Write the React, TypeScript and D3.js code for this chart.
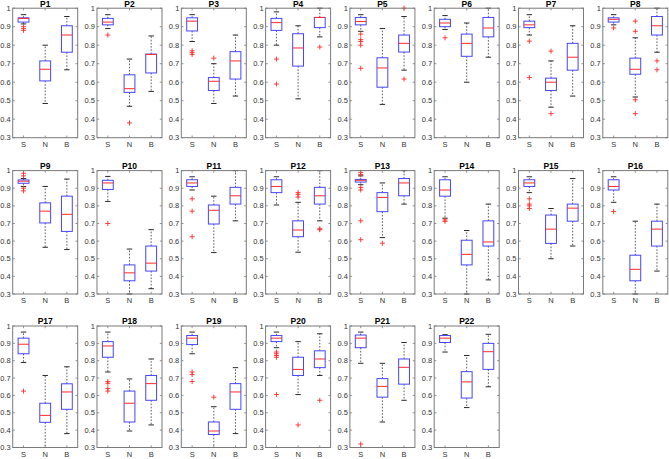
import React from "react";
import * as d3 from "d3";

const panels = ["P1","P2","P3","P4","P5","P6","P7","P8","P9","P10","P11","P12","P13","P14","P15","P16","P17","P18","P19","P20","P21","P22"];
const groups = ["S", "N", "B"];
const yTicks = [0.3, 0.4, 0.5, 0.6, 0.7, 0.8, 0.9, 1];

// [lowWhisker, q1, median, q3, highWhisker]
const sStats = [
  [0.915, 0.925, 0.945, 0.948, 0.965],
  [0.89, 0.91, 0.925, 0.945, 0.965],
  [0.82, 0.877, 0.93, 0.948, 0.965],
  [0.8, 0.88, 0.922, 0.945, 0.98],
  [0.875, 0.91, 0.928, 0.95, 0.965],
  [0.885, 0.9, 0.92, 0.94, 0.96],
  [0.855, 0.895, 0.91, 0.93, 0.965],
  [0.91, 0.925, 0.94, 0.948, 0.965],
  [0.91, 0.928, 0.94, 0.947, 0.955],
  [0.825, 0.893, 0.93, 0.945, 0.967],
  [0.89, 0.91, 0.93, 0.948, 0.965],
  [0.805, 0.875, 0.91, 0.948, 0.965],
  [0.92, 0.935, 0.945, 0.95, 0.97],
  [0.73, 0.855, 0.89, 0.948, 0.965],
  [0.875, 0.91, 0.93, 0.948, 0.965],
  [0.82, 0.89, 0.91, 0.948, 0.965],
  [0.79, 0.84, 0.895, 0.93, 0.965],
  [0.735, 0.82, 0.885, 0.91, 0.965],
  [0.84, 0.893, 0.93, 0.945, 0.965],
  [0.875, 0.91, 0.93, 0.945, 0.965],
  [0.785, 0.875, 0.93, 0.948, 0.965],
  [0.85, 0.905, 0.93, 0.945, 0.95],
];
const nStats = [
  [0.485, 0.607, 0.67, 0.715, 0.8],
  [0.47, 0.545, 0.565, 0.64, 0.725],
  [0.485, 0.555, 0.605, 0.625, 0.7],
  [0.51, 0.687, 0.785, 0.862, 0.905],
  [0.48, 0.573, 0.677, 0.732, 0.89],
  [0.6, 0.74, 0.81, 0.86, 0.92],
  [0.465, 0.555, 0.6, 0.622, 0.715],
  [0.52, 0.643, 0.67, 0.73, 0.84],
  [0.565, 0.703, 0.77, 0.817, 0.91],
  [0.3, 0.375, 0.42, 0.465, 0.555],
  [0.535, 0.697, 0.775, 0.805, 0.855],
  [0.537, 0.625, 0.663, 0.715, 0.82],
  [0.62, 0.767, 0.848, 0.875, 0.93],
  [0.3, 0.465, 0.525, 0.605, 0.66],
  [0.5, 0.587, 0.668, 0.748, 0.785],
  [0.3, 0.375, 0.44, 0.52, 0.713],
  [0.3, 0.445, 0.485, 0.555, 0.715],
  [0.395, 0.447, 0.555, 0.625, 0.695],
  [0.3, 0.375, 0.395, 0.447, 0.535],
  [0.605, 0.715, 0.75, 0.82, 0.91],
  [0.447, 0.59, 0.652, 0.697, 0.785],
  [0.53, 0.585, 0.678, 0.737, 0.83],
];
const bStats = [
  [0.667, 0.762, 0.855, 0.905, 0.955],
  [0.55, 0.65, 0.75, 0.752, 0.85],
  [0.525, 0.617, 0.715, 0.765, 0.855],
  [0.845, 0.895, 0.95, 0.95, 1.0],
  [0.665, 0.763, 0.81, 0.855, 0.955],
  [0.735, 0.845, 0.893, 0.95, 1.0],
  [0.525, 0.665, 0.735, 0.81, 0.905],
  [0.762, 0.855, 0.905, 0.955, 1.0],
  [0.552, 0.655, 0.752, 0.855, 0.952],
  [0.33, 0.43, 0.475, 0.572, 0.665],
  [0.715, 0.81, 0.857, 0.905, 1.0],
  [0.715, 0.81, 0.857, 0.905, 1.0],
  [0.81, 0.857, 0.93, 0.955, 1.0],
  [0.38, 0.572, 0.595, 0.715, 0.81],
  [0.572, 0.713, 0.787, 0.81, 0.955],
  [0.43, 0.572, 0.668, 0.713, 0.81],
  [0.38, 0.52, 0.62, 0.667, 0.765],
  [0.43, 0.572, 0.668, 0.715, 0.81],
  [0.38, 0.52, 0.62, 0.668, 0.76],
  [0.715, 0.76, 0.81, 0.857, 0.955],
  [0.572, 0.665, 0.762, 0.81, 0.905],
  [0.65, 0.75, 0.852, 0.9, 0.952],
];
const sOutliers = [
  [0.9, 0.89, 0.88], [0.855], [0.77, 0.76, 0.75], [0.725, 0.59], [0.86, 0.83, 0.82, 0.8, 0.675],
  [0.84], [0.822, 0.625], [0.893], [0.985, 0.97, 0.9, 0.885], [0.7], [0.84, 0.77, 0.625], [],
  [0.99, 0.978, 0.905, 0.89, 0.715, 0.608], [0.72, 0.712], [0.84, 0.81, 0.8, 0.785], [0.768],
  [0.625], [0.68, 0.67, 0.64, 0.625], [0.735, 0.72, 0.68], [0.85, 0.84, 0.83, 0.82, 0.605], [0.32], [],
];
const nOutliers = [
  [], [0.38], [0.73], [], [], [], [0.768, 0.43], [0.93, 0.875, 0.505, 0.43], [], [], [], [0.875, 0.865, 0.85],
  [0.588], [], [], [], [], [], [0.59], [0.43], [], [],
];
const bOutliers = [
  [], [], [], [0.79], [1.0, 0.617], [], [], [0.715, 0.667], [], [], [], [0.67, 0.665],
  [], [], [], [], [], [], [], [0.572], [], [],
];

const colLeft0 = 12.7;
const colStep = 84.3;
const panelW = 65;
const rowTops = [8.2, 170.6, 326];
const rowBottoms = [137.7, 294, 447.5];

const FONT = "'Liberation Sans', Arial, sans-serif";
const BLUE = "#4545ff";
const RED = "#ff2a2a";
const FRAME = "#7a7a7a";

function Panel({ idx }: { idx: number }) {
  const col = idx % 8;
  const row = Math.floor(idx / 8);
  const left = colLeft0 + colStep * col;
  const right = left + panelW;
  const top = rowTops[row];
  const bottom = rowBottoms[row];
  const x = d3.scaleLinear().domain([0.5, 3.5]).range([left, right]);
  const y = d3.scaleLinear().domain([0.3, 1]).range([bottom, top]);
  const stats = [sStats[idx], nStats[idx], bStats[idx]];
  const outs = [sOutliers[idx], nOutliers[idx], bOutliers[idx]];
  const halfBox = x(1.25) - x(1);
  const halfCap = halfBox / 2;
  const tl = 2.2;
  return (
    <g>
      <rect x={left} y={top} width={panelW} height={bottom - top} fill="#fff" />
      {stats.map((s, g) => {
        const cx = x(g + 1);
        const [lo, q1, med, q3, hi] = s;
        return (
          <g key={g}>
            <line x1={cx} x2={cx} y1={y(q3)} y2={y(hi)} stroke="#333" strokeWidth={0.8} strokeDasharray="1.6,1.6" />
            <line x1={cx} x2={cx} y1={y(q1)} y2={y(lo)} stroke="#333" strokeWidth={0.8} strokeDasharray="1.6,1.6" />
            <line x1={cx - halfCap} x2={cx + halfCap} y1={y(hi)} y2={y(hi)} stroke="#111" strokeWidth={0.9} />
            <line x1={cx - halfCap} x2={cx + halfCap} y1={y(lo)} y2={y(lo)} stroke="#111" strokeWidth={0.9} />
            <rect x={cx - halfBox} y={y(q3)} width={halfBox * 2} height={Math.max(0.5, y(q1) - y(q3))} fill="none" stroke={BLUE} strokeWidth={1} />
            <line x1={cx - halfBox} x2={cx + halfBox} y1={y(med)} y2={y(med)} stroke={RED} strokeWidth={1} />
            {outs[g].map((o, k) => (
              <g key={k} stroke={RED} strokeWidth={0.9}>
                <line x1={cx - 2.5} x2={cx + 2.5} y1={y(o)} y2={y(o)} />
                <line x1={cx} x2={cx} y1={y(o) - 2.5} y2={y(o) + 2.5} />
              </g>
            ))}
          </g>
        );
      })}
      <rect x={left} y={top} width={panelW} height={bottom - top} fill="none" stroke={FRAME} strokeWidth={1} />
      {yTicks.map((t) => (
        <g key={t}>
          <line x1={left} x2={left + tl} y1={y(t)} y2={y(t)} stroke={FRAME} strokeWidth={0.8} />
          <line x1={right} x2={right - tl} y1={y(t)} y2={y(t)} stroke={FRAME} strokeWidth={0.8} />
          <text x={left - 2} y={y(t)} dy="0.35em" textAnchor="end" fontSize={7.5} fontFamily={FONT} fill="#333">
            {t === 1 ? "1" : d3.format(".1f")(t)}
          </text>
        </g>
      ))}
      {groups.map((gname, g) => (
        <g key={gname}>
          <line x1={x(g + 1)} x2={x(g + 1)} y1={bottom} y2={bottom - tl} stroke={FRAME} strokeWidth={0.8} />
          <line x1={x(g + 1)} x2={x(g + 1)} y1={top} y2={top + tl} stroke={FRAME} strokeWidth={0.8} />
          <text x={x(g + 1)} y={bottom + 9} textAnchor="middle" fontSize={7.5} fontFamily={FONT} fill="#333">
            {gname}
          </text>
        </g>
      ))}
      <text x={(left + right) / 2} y={top - 1.6} textAnchor="middle" fontSize={8.5} fontWeight="bold" fontFamily={FONT} fill="#000">
        {panels[idx]}
      </text>
    </g>
  );
}

export default function App() {
  return (
    <svg width={669} height={459} style={{ position: "absolute", left: 0, top: 0, background: "#fff" }}>
      <rect width={669} height={459} fill="#fff" />
      {panels.map((p, i) => (
        <Panel key={p} idx={i} />
      ))}
    </svg>
  );
}
